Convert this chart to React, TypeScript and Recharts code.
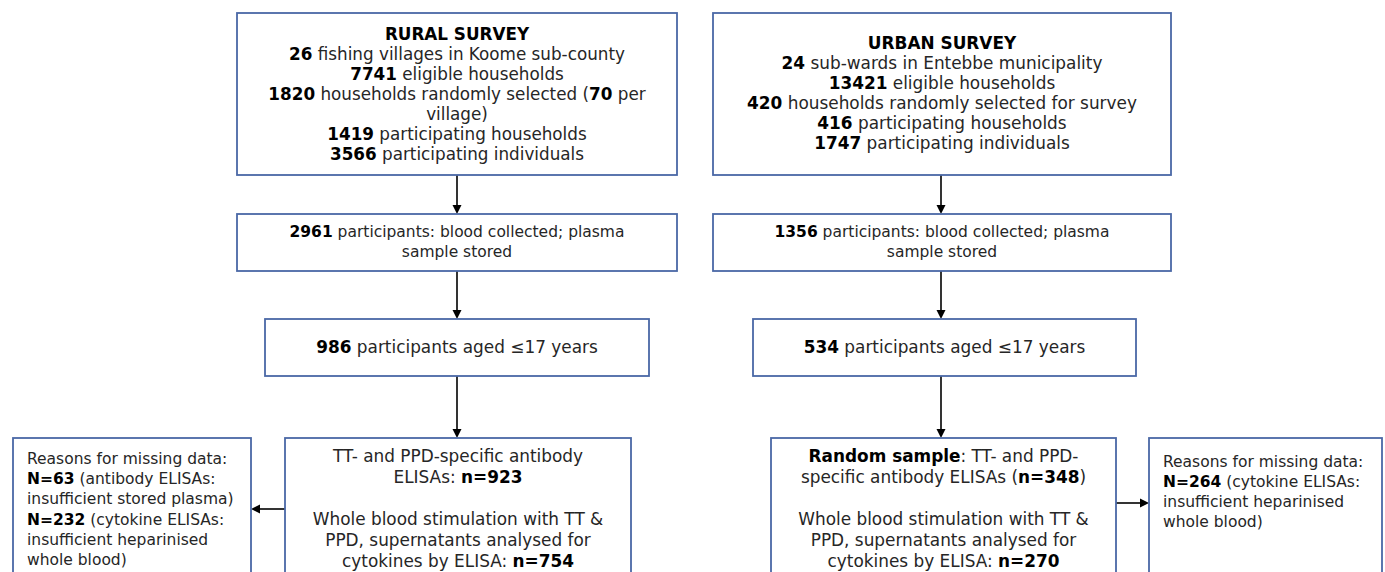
import { ScatterChart, Scatter, XAxis, YAxis } from "recharts"

const W = 1385
const H = 572

// box texts; **x** marks bold runs
const ruralSurvey = [
  "**RURAL SURVEY**",
  "**26** fishing villages in Koome sub-county",
  "**7741** eligible households",
  "**1820** households randomly selected (**70** per",
  "village)",
  "**1419** participating households",
  "**3566** participating individuals",
]
const urbanSurvey = [
  "**URBAN SURVEY**",
  "**24** sub-wards in Entebbe municipality",
  "**13421** eligible households",
  "**420** households randomly selected for survey",
  "**416** participating households",
  "**1747** participating individuals",
]
const ruralBlood = ["**2961** participants: blood collected; plasma", "sample stored"]
const urbanBlood = ["**1356** participants: blood collected; plasma", "sample stored"]
const ruralChildren = ["**986** participants aged ≤17 years"]
const urbanChildren = ["**534** participants aged ≤17 years"]
const ruralAssays = [
  "TT- and PPD-specific antibody",
  "ELISAs: **n=923**",
  "",
  "Whole blood stimulation with TT &",
  "PPD, supernatants analysed for",
  "cytokines by ELISA: **n=754**",
]
const urbanAssays = [
  "**Random sample**: TT- and PPD-",
  "specific antibody ELISAs (**n=348**)",
  "",
  "Whole blood stimulation with TT &",
  "PPD, supernatants analysed for",
  "cytokines by ELISA: **n=270**",
]
const ruralMissing = [
  "Reasons for missing data:",
  "**N=63** (antibody ELISAs:",
  "insufficient stored plasma)",
  "**N=232** (cytokine ELISAs:",
  "insufficient heparinised",
  "whole blood)",
]
const urbanMissing = [
  "Reasons for missing data:",
  "**N=264** (cytokine ELISAs:",
  "insufficient heparinised",
  "whole blood)",
]

// layout: box edges in chart units, first text line centre, line height, font size
const boxes = [
  { x0: 237, y0: 13, x1: 677, y1: 175, ty: 34, lh: 20, fs: 16.8, lines: ruralSurvey },
  { x0: 713, y0: 13, x1: 1171, y1: 175, ty: 43, lh: 20, fs: 16.9, lines: urbanSurvey },
  { x0: 237, y0: 214, x1: 677, y1: 271, ty: 232, lh: 20, fs: 15.5, lines: ruralBlood },
  { x0: 713, y0: 214, x1: 1171, y1: 271, ty: 232, lh: 20, fs: 15.5, lines: urbanBlood },
  { x0: 265, y0: 319, x1: 649, y1: 376, ty: 347, lh: 20, fs: 16.9, lines: ruralChildren },
  { x0: 753, y0: 319, x1: 1136, y1: 376, ty: 347, lh: 20, fs: 16.9, lines: urbanChildren },
  { x0: 285, y0: 438, x1: 631, y1: 610, ty: 456, lh: 21, fs: 16.9, lines: ruralAssays },
  { x0: 771, y0: 438, x1: 1116, y1: 610, ty: 456, lh: 21, fs: 16.9, lines: urbanAssays },
  { x0: 13, y0: 438, x1: 251, y1: 610, ty: 459, lh: 20.2, fs: 15.5, lines: ruralMissing, left: 27 },
  { x0: 1149, y0: 438, x1: 1382, y1: 610, ty: 462, lh: 20, fs: 15.5, lines: urbanMissing, left: 1163 },
].map((b) => ({ ...b, x: b.x0, y: b.y0 }))

const arrows = [
  { x: 457, y: 175, x2: 457, y2: 214 },
  { x: 457, y: 271, x2: 457, y2: 319 },
  { x: 457, y: 376, x2: 457, y2: 438 },
  { x: 941, y: 175, x2: 941, y2: 214 },
  { x: 941, y: 271, x2: 941, y2: 319 },
  { x: 941, y: 376, x2: 941, y2: 438 },
  { x: 285, y: 509, x2: 251, y2: 509 },
  { x: 1116, y: 503, x2: 1149, y2: 503 },
]

const FONT = "'DejaVu Sans', sans-serif"
const BORDER = "#4a68a6"

const splitBold = (line: string) =>
  line.split("**").map((t, i) => ({ t, bold: i % 2 === 1 })).filter((s) => s.t)

const BoxShape = (props: any) => {
  const { cx, cy, payload } = props
  // chart units map 1:1 to pixels
  const w = payload.x1 - payload.x0
  const h = payload.y1 - payload.y0
  const left = payload.left != null
  const tx = left ? cx + (payload.left - payload.x0) : cx + w / 2
  return (
    <g>
      <rect x={cx} y={cy} width={w} height={h} fill="#fff" stroke={BORDER} strokeWidth={1.8} />
      {payload.lines.map((line: string, i: number) => (
        <text
          key={i}
          x={tx}
          y={cy + (payload.ty - payload.y0) + i * payload.lh}
          textAnchor={left ? "start" : "middle"}
          dominantBaseline="central"
          fontFamily={FONT}
          fontSize={payload.fs}
          fill="#262626"
        >
          {splitBold(line).map((s, j) => (
            <tspan key={j} fontWeight={s.bold ? "bold" : "normal"} fill={s.bold ? "#000" : "#262626"}>
              {s.t}
            </tspan>
          ))}
        </text>
      ))}
    </g>
  )
}

const ArrowShape = (props: any) => {
  const { cx, cy, payload } = props
  const dx = payload.x2 - payload.x
  const dy = payload.y2 - payload.y
  const len = Math.sqrt(dx * dx + dy * dy)
  const ux = dx / len
  const uy = dy / len
  const head = 9
  const half = 4.5
  const ex = cx + dx
  const ey = cy + dy
  const bx = ex - ux * head
  const by = ey - uy * head
  return (
    <g>
      <line x1={cx} y1={cy} x2={bx} y2={by} stroke="#000" strokeWidth={1.6} />
      <polygon
        points={`${ex},${ey} ${bx - uy * half},${by + ux * half} ${bx + uy * half},${by - ux * half}`}
        fill="#000"
      />
    </g>
  )
}

export default function App() {
  return (
    <div style={{ position: "absolute", left: 0, top: 0, background: "#fff" }}>
      <ScatterChart width={W} height={H} margin={{ top: 0, right: 0, bottom: 0, left: 0 }}>
        <XAxis type="number" dataKey="x" domain={[0, W]} hide />
        <YAxis type="number" dataKey="y" domain={[0, H]} reversed hide />
        <Scatter data={arrows} shape={ArrowShape} isAnimationActive={false} />
        <Scatter data={boxes} shape={BoxShape} isAnimationActive={false} />
      </ScatterChart>
    </div>
  )
}
